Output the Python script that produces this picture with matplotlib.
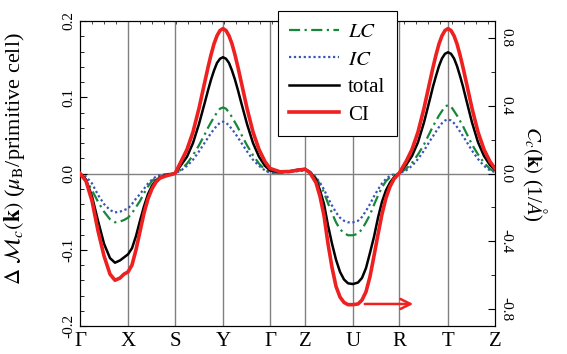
import matplotlib
matplotlib.use("Agg")
import matplotlib.pyplot as plt
from matplotlib.ticker import MultipleLocator

plt.rcParams['font.family'] = ['Liberation Serif', 'DejaVu Serif']
plt.rcParams['mathtext.fontset'] = 'stix'
plt.rcParams['axes.unicode_minus'] = False

# high-symmetry points along the path
kpos = [0, 48, 95, 143, 190, 225, 273, 319, 368, 415]
klabels = ['\u0393', 'X', 'S', 'Y', '\u0393', 'Z', 'U', 'R', 'T', 'Z']

k = [0, 6, 12, 18, 24, 30, 35, 40, 44, 48, 52, 56, 60, 64, 68, 72, 76, 80, 86, 95,
     101, 107, 113, 119, 125, 128, 131, 134, 137, 140, 143, 146, 149, 152, 155, 158,
     161, 167, 173, 179, 185, 190,
     200, 210, 218, 225,
     230, 236, 240, 244, 248, 252, 256, 260, 264, 268, 273, 278, 282, 286, 290, 294,
     298, 302, 306, 310, 314, 319,
     326, 332, 338, 344, 350, 353, 356, 359, 362, 365, 368, 371, 374, 377, 380, 383,
     386, 392, 398, 404, 410, 415]

lc = [0, -0.008, -0.022, -0.037, -0.050, -0.060, -0.064, -0.063, -0.061, -0.058,
      -0.052, -0.044, -0.036, -0.026, -0.017, -0.010, -0.005, -0.003, -0.001, 0,
      0.005, 0.013, 0.024, 0.037, 0.052, 0.060, 0.067, 0.074, 0.080, 0.085, 0.0866,
      0.085, 0.080, 0.074, 0.067, 0.060, 0.052, 0.037, 0.024, 0.013, 0.005, 0.001,
      0.001, 0.002, 0.004, 0.005,
      0.002, -0.006, -0.014, -0.025, -0.039, -0.052, -0.064, -0.073, -0.078, -0.081,
      -0.081, -0.079, -0.073, -0.064, -0.054, -0.041, -0.029, -0.018, -0.010, -0.005,
      -0.002, 0.000,
      0.006, 0.014, 0.025, 0.038, 0.054, 0.062, 0.069, 0.076, 0.082, 0.088, 0.0895,
      0.088, 0.082, 0.076, 0.069, 0.062, 0.054, 0.038, 0.025, 0.014, 0.006, 0.002]

ic = [0, -0.004, -0.013, -0.028, -0.040, -0.048, -0.051, -0.050, -0.048, -0.046,
      -0.040, -0.033, -0.027, -0.020, -0.013, -0.008, -0.004, -0.002, -0.001, 0,
      0.004, 0.010, 0.018, 0.029, 0.041, 0.047, 0.053, 0.058, 0.063, 0.0665, 0.068,
      0.0665, 0.063, 0.058, 0.053, 0.047, 0.041, 0.029, 0.018, 0.010, 0.004, 0.001,
      0.001, 0.002, 0.003, 0.004,
      0.002, -0.005, -0.012, -0.021, -0.032, -0.042, -0.051, -0.058, -0.062, -0.064,
      -0.064, -0.062, -0.057, -0.049, -0.040, -0.030, -0.021, -0.013, -0.007, -0.003,
      -0.001, 0.000,
      0.004, 0.010, 0.019, 0.030, 0.043, 0.049, 0.055, 0.061, 0.066, 0.0695, 0.071,
      0.0695, 0.066, 0.061, 0.055, 0.049, 0.043, 0.030, 0.019, 0.010, 0.004, 0.002]

total = [0, -0.008, -0.030, -0.062, -0.092, -0.111, -0.117, -0.114, -0.110, -0.106,
         -0.098, -0.082, -0.062, -0.043, -0.027, -0.016, -0.009, -0.005, -0.002, 0,
         0.011, 0.022, 0.040, 0.065, 0.094, 0.109, 0.123, 0.135, 0.145, 0.1505, 0.1525,
         0.1505, 0.145, 0.135, 0.123, 0.109, 0.094, 0.065, 0.040, 0.022, 0.010, 0.004,
         0.002, 0.003, 0.005, 0.006,
         0.002, -0.008, -0.022, -0.040, -0.068, -0.092, -0.113, -0.129, -0.139, -0.144,
         -0.145, -0.143, -0.137, -0.124, -0.104, -0.083, -0.058, -0.037, -0.022, -0.012,
         -0.005, 0.000,
         0.011, 0.023, 0.041, 0.067, 0.098, 0.114, 0.128, 0.141, 0.151, 0.157, 0.159,
         0.157, 0.151, 0.141, 0.128, 0.114, 0.098, 0.067, 0.041, 0.023, 0.011, 0.005]

# CI on the right axis (1/A)
ci = [0, -0.045, -0.162, -0.338, -0.486, -0.594, -0.630, -0.617, -0.594, -0.581,
      -0.540, -0.450, -0.342, -0.234, -0.149, -0.090, -0.050, -0.027, -0.014, 0,
      0.070, 0.142, 0.245, 0.385, 0.546, 0.626, 0.700, 0.765, 0.813, 0.844, 0.855,
      0.844, 0.813, 0.765, 0.700, 0.626, 0.546, 0.385, 0.245, 0.142, 0.070, 0.030,
      0.010, 0.012, 0.020, 0.025,
      0.004, -0.054, -0.135, -0.248, -0.414, -0.554, -0.666, -0.729, -0.761, -0.774,
      -0.774, -0.770, -0.747, -0.698, -0.608, -0.486, -0.360, -0.239, -0.144, -0.077,
      -0.032, 0.0,
      0.070, 0.142, 0.245, 0.385, 0.546, 0.626, 0.700, 0.765, 0.813, 0.844, 0.855,
      0.844, 0.813, 0.765, 0.700, 0.626, 0.546, 0.385, 0.245, 0.142, 0.070, 0.030]

fig = plt.figure(figsize=(5.67, 3.54), dpi=100)
ax = fig.add_axes([80/567, 28/354, 415/567, 305/354])

for x in kpos[1:-1]:
    ax.axvline(x, color='#808080', lw=1.0, zorder=1)
ax.axhline(0, color='#808080', lw=1.0, zorder=1)

l1, = ax.plot(k, lc, color='#17873a', ls=(0, (5, 2, 1, 2)), lw=1.6, zorder=3)
l2, = ax.plot(k, ic, color='#3a55b5', ls=(0, (1, 1.2)), lw=1.6, zorder=3)
l3, = ax.plot(k, total, color='black', lw=1.8, zorder=4, solid_joinstyle='round')

ax.set_xlim(kpos[0], kpos[-1])
ax.set_ylim(-0.2, 0.2)
ax.set_xticks(kpos)
ax.set_xticklabels(klabels, fontsize=15)
ax.set_yticks([-0.2, -0.1, 0.0, 0.1, 0.2])
ax.set_yticklabels(['-0.2', '-0.1', '0.0', '0.1', '0.2'], fontsize=11,
                   rotation=90, va='center')
ax.yaxis.set_minor_locator(MultipleLocator(0.02))
ax.xaxis.set_minor_locator(MultipleLocator(12))
ax.tick_params(axis='y', which='major', direction='in', length=5, width=0.8, pad=3)
ax.tick_params(axis='y', which='minor', direction='in', length=3, width=0.6)
ax.tick_params(axis='x', which='major', direction='in', length=0, pad=4)
ax.tick_params(axis='x', which='minor', direction='in', length=2, width=0.5,
               top=True, bottom=False)
ax.set_ylabel(r'$\Delta\ \mathcal{M}_c(\mathbf{k})$ ($\mu_\mathrm{B}$/primitive cell)',
              fontsize=16)
ax.yaxis.set_label_coords(-0.128, 0.55)

ax2 = ax.twinx()
l4, = ax2.plot(k, ci, color='#ee2020', lw=2.6, zorder=5, solid_joinstyle='round')
ax2.set_ylim(-0.9, 0.9)
ax2.set_yticks([-0.8, -0.4, 0.0, 0.4, 0.8])
ax2.set_yticklabels(['-0.8', '-0.4', '0.0', '0.4', '0.8'], fontsize=11,
                    rotation=-90, va='center')
ax2.yaxis.set_minor_locator(MultipleLocator(0.2))
ax2.tick_params(axis='y', which='major', direction='in', length=5, width=0.8, pad=3)
ax2.tick_params(axis='y', which='minor', direction='in', length=3, width=0.6)
ax2.set_ylabel(r'$C_c(\mathbf{k})$ (1/$\AA$)', fontsize=15, rotation=-90,
               labelpad=26)

# arrow pointing to the right axis for CI
ax2.annotate('', xy=(336, -0.77), xytext=(282, -0.77),
             arrowprops=dict(arrowstyle='->', color='#ee2020', lw=1.8,
                             mutation_scale=18))

leg = fig.legend([l1, l2, l3, l4], ['$LC$', '$IC$', 'total', 'CI'],
                 loc='upper left', bbox_to_anchor=(278/567, 343/354),
                 fontsize=15, frameon=True, fancybox=False, framealpha=1,
                 edgecolor='black', handlelength=2.4, handletextpad=0.4,
                 labelspacing=0.38, borderpad=0.55, borderaxespad=0)
leg.get_frame().set_linewidth(0.8)

fig.savefig('out.png', dpi=100)
